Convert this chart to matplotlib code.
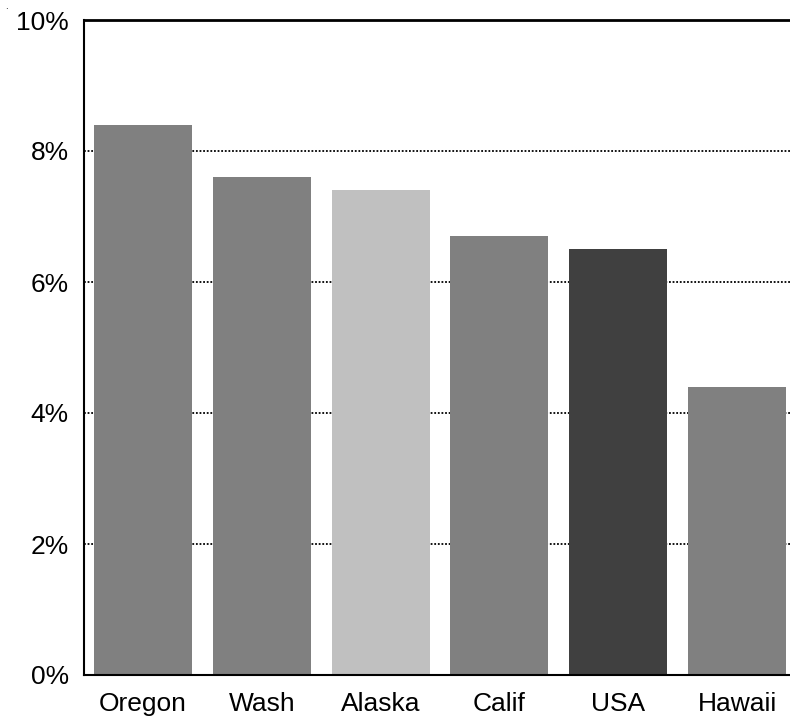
import matplotlib.pyplot as plt
from matplotlib.ticker import FuncFormatter

# --- Data ---
states = ["Oregon", "Wash", "Alaska", "Calif", "USA", "Hawaii"]
rates = [8.4, 7.6, 7.4, 6.7, 6.5, 4.4]
bar_colors = ["#808080", "#808080", "#c0c0c0", "#808080", "#404040", "#808080"]
y_ticks = [0, 2, 4, 6, 8, 10]

plt.rcParams['font.family'] = ['Liberation Sans', 'DejaVu Sans']

fig = plt.figure(figsize=(7.9, 7.17), dpi=100)
ax = fig.add_axes([84 / 790, 42 / 717, 706 / 790, 655 / 717])

x = list(range(len(states)))
ax.bar(x, rates, width=0.825, color=bar_colors, zorder=2)

ax.set_xlim(-0.497, 5.446)
ax.set_ylim(0, 10)
ax.set_yticks(y_ticks)
ax.yaxis.set_major_formatter(FuncFormatter(lambda v, p: f"{v:.0f}%"))
ax.set_xticks(x)
ax.set_xticklabels(states)
ax.tick_params(axis='both', length=0, labelsize=19)
ax.tick_params(axis='y', pad=11)
ax.tick_params(axis='x', pad=12)

# dotted gridlines behind the bars
ax.yaxis.grid(True, color='black', linestyle=(0, (1, 1)), linewidth=1.3, zorder=0)
ax.set_axisbelow(True)

ax.spines['top'].set_linewidth(2)
ax.spines['left'].set_linestyle((0, (1, 1)))
ax.spines['left'].set_linewidth(1.5)
ax.spines['bottom'].set_linestyle((0, (1, 1)))
ax.spines['bottom'].set_linewidth(1.5)
ax.spines['right'].set_visible(False)

# stray dot in the top-left corner of the original
fig.text(5 / 790, 1 - 1 / 717, ".", fontsize=7, ha='left', va='top')

fig.savefig("out.png", dpi=100)
